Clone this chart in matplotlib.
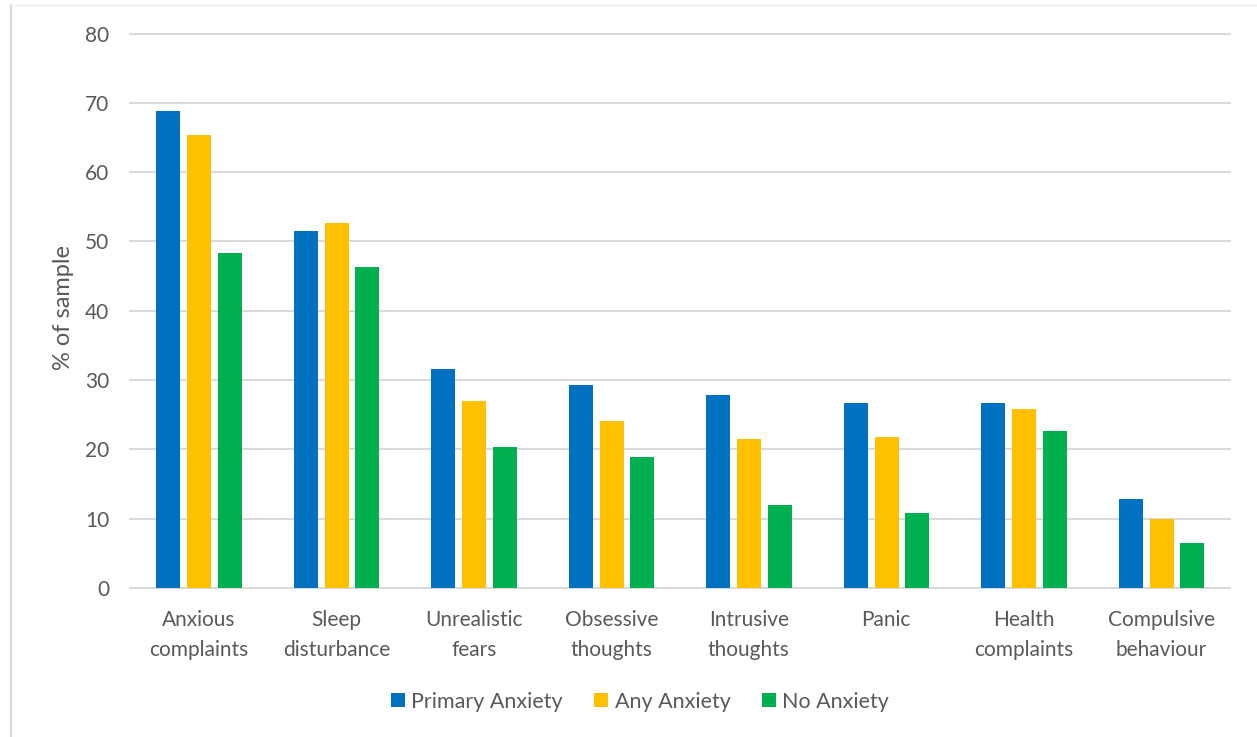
import numpy as np
import matplotlib
matplotlib.use("Agg")
import matplotlib.pyplot as plt
from matplotlib.lines import Line2D

categories = ["Anxious\ncomplaints", "Sleep\ndisturbance", "Unrealistic\nfears",
              "Obsessive\nthoughts", "Intrusive\nthoughts", "Panic",
              "Health\ncomplaints", "Compulsive\nbehaviour"]
series_names = ["Primary Anxiety", "Any Anxiety", "No Anxiety"]
primary_anxiety = [68.8, 51.5, 31.6, 29.3, 27.8, 26.7, 26.7, 12.8]
any_anxiety = [65.4, 52.7, 27.0, 24.1, 21.5, 21.8, 25.8, 10.0]
no_anxiety = [48.3, 46.3, 20.3, 18.9, 12.0, 10.8, 22.6, 6.5]
colors = ["#0070C0", "#FFC000", "#00B050"]
y_ticks = [0, 10, 20, 30, 40, 50, 60, 70, 80]

plt.rcParams["font.family"] = ["Lato", "DejaVu Sans"]
text_color = "#595959"
grid_color = "#D9D9D9"

W, H = 1257, 737
fig = plt.figure(figsize=(W / 100, H / 100), dpi=100)
ax = fig.add_axes([130 / W, 1 - 588 / H, 1100 / W, (588 - 33.5) / H])

x = np.arange(len(categories))
width = 0.175
offsets = [-0.222, 0.005, 0.225]
for vals, name, col, off in zip([primary_anxiety, any_anxiety, no_anxiety],
                                series_names, colors, offsets):
    ax.bar(x + off, vals, width, color=col, label=name, zorder=3)

ax.set_xlim(-0.5, len(categories) - 0.5)
ax.set_ylim(0, 80)
ax.set_yticks(y_ticks)
ax.set_xticks(x)
ax.set_xticklabels(categories, fontsize=15, color=text_color, linespacing=1.62)
ax.tick_params(axis="y", length=0, pad=15, labelsize=15, labelcolor=text_color)
ax.tick_params(axis="x", length=0, pad=16)
for s in ax.spines.values():
    s.set_visible(False)
ax.yaxis.grid(True, color=grid_color, linewidth=1.4, zorder=0)
for gl in ax.yaxis.get_gridlines():
    gl.set_clip_on(False)
ax.set_axisbelow(True)
ax.set_ylabel("% of sample", fontsize=17, color=text_color)
ax.yaxis.set_label_coords(-0.051, 0.505)

leg = fig.legend(loc="center", bbox_to_anchor=(640 / W, 1 - 701.5 / H), ncol=3,
                 frameon=False, fontsize=15.5, handlelength=0.65, handleheight=0.65,
                 handletextpad=0.3, columnspacing=1.45, labelcolor=text_color)

# thin chart-area border on the left and top
fig.add_artist(Line2D([11 / W, 11 / W], [0, 1 - 5 / H], transform=fig.transFigure,
                      color=grid_color, linewidth=1.5))
fig.add_artist(Line2D([11 / W, 1], [1 - 5 / H, 1 - 5 / H], transform=fig.transFigure,
                      color="#EEEEEE", linewidth=1.0))

fig.savefig("out.png", dpi=100, facecolor="white")
